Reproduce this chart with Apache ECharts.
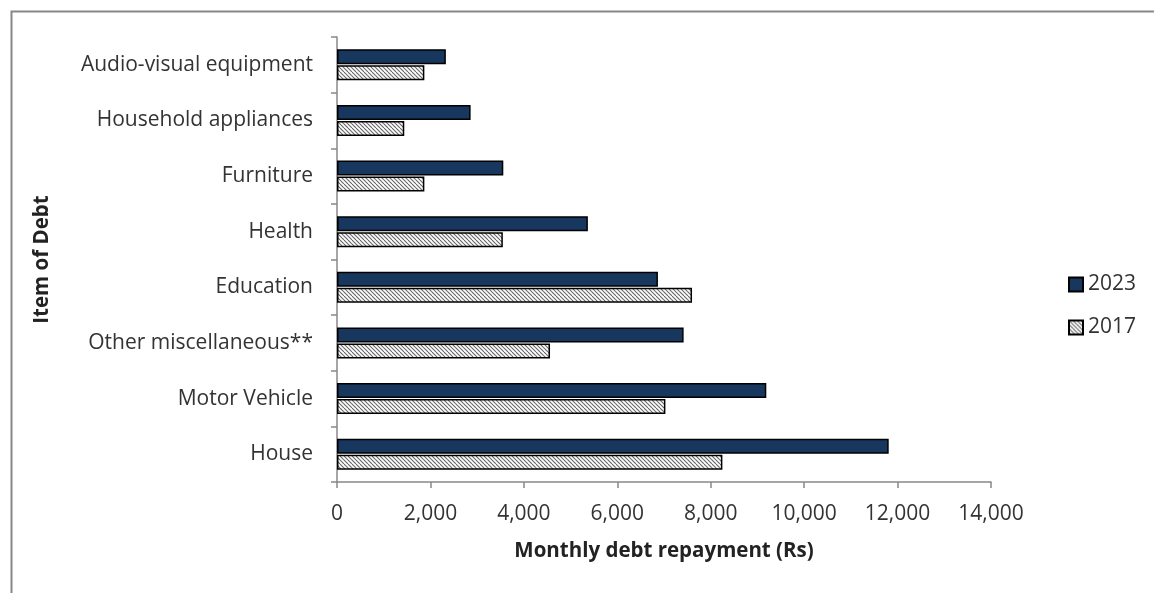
<!DOCTYPE html>
<html>
<head>
<meta charset="utf-8">
<script src="https://cdn.jsdelivr.net/npm/echarts@6/dist/echarts.min.js"></script>
<style>
html,body{margin:0;padding:0;background:#fff;}
#chart{width:1154px;height:593px;}
</style>
</head>
<body>
<div id="chart"></div>
<script>
const categories = ["Audio-visual equipment","Household appliances","Furniture","Health","Education","Other miscellaneous**","Motor Vehicle","House"];
const values2023 = [2330, 2860, 3560, 5370, 6870, 7420, 9190, 11810];
const values2017 = [1870, 1440, 1870, 3550, 7600, 4560, 7030, 8250];
const seriesNames = ["2023", "2017"];
const xTicks = [0, 2000, 4000, 6000, 8000, 10000, 12000, 14000];

function hatch() {
  const c = document.createElement('canvas');
  c.width = 8; c.height = 8;
  const g = c.getContext('2d');
  g.fillStyle = '#ffffff';
  g.fillRect(0, 0, 8, 8);
  g.strokeStyle = '#666666';
  g.lineWidth = 1.1;
  for (let k = -8; k <= 8; k += 4) {
    g.beginPath();
    g.moveTo(k, 0);
    g.lineTo(k + 8, 8);
    g.stroke();
  }
  return c;
}

const FONT = '"Open Sans", Lato, sans-serif';
const chart = echarts.init(document.getElementById('chart'), null, {renderer: 'canvas'});
chart.setOption({
  animation: false,
  backgroundColor: '#ffffff',
  graphic: [{
    type: 'rect', left: 9, top: 9, z: -1,
    shape: {x: 0, y: 0, width: 1200, height: 700},
    style: {fill: 'none', stroke: '#878787', lineWidth: 2}
  }],
  grid: {left: 337, right: 163, top: 37, bottom: 111, containLabel: false},
  legend: {
    orient: 'vertical', left: 1063, top: 269,
    itemWidth: 14, itemHeight: 14, itemGap: 22, icon: 'rect',
    textStyle: {fontFamily: FONT, fontSize: 21, color: '#333'},
    data: seriesNames
  },
  xAxis: {
    type: 'value', min: xTicks[0], max: xTicks[xTicks.length - 1], interval: xTicks[1] - xTicks[0],
    name: 'Monthly debt repayment (Rs)', nameLocation: 'middle', nameGap: 59,
    nameTextStyle: {fontFamily: FONT, fontSize: 20.5, fontWeight: 'bold', color: '#222'},
    axisLine: {show: true, lineStyle: {color: '#888', width: 1.5}},
    axisTick: {show: true, length: 6, lineStyle: {color: '#888', width: 1.5}},
    axisLabel: {margin: 22, fontFamily: FONT, fontSize: 21, color: '#333',
      formatter: v => v.toLocaleString('en-US')},
    splitLine: {show: false}
  },
  yAxis: {
    type: 'category', inverse: true, data: categories,
    name: 'Item of Debt', nameLocation: 'middle', nameGap: 284, nameRotate: 90,
    nameTextStyle: {fontFamily: FONT, fontSize: 20.5, fontWeight: 'bold', color: '#222'},
    axisLine: {show: true, lineStyle: {color: '#888', width: 1.5}},
    axisTick: {show: true, length: 6, lineStyle: {color: '#888', width: 1.5}},
    axisLabel: {margin: 24, fontFamily: FONT, fontSize: 21, color: '#333'},
    splitLine: {show: false}
  },
  series: [
    {name: seriesNames[0], type: 'bar', data: values2023, barWidth: 15, barGap: '6%',
     itemStyle: {color: '#17375e', borderColor: '#000', borderWidth: 1.5}},
    {name: seriesNames[1], type: 'bar', data: values2017, barWidth: 15,
     itemStyle: {color: {image: hatch(), repeat: 'repeat'}, borderColor: '#000', borderWidth: 1.5}}
  ]
});
</script>
</body>
</html>
